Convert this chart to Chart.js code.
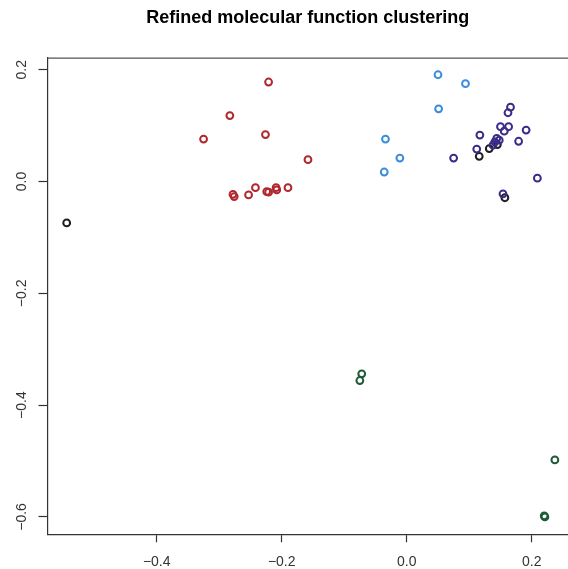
<!DOCTYPE html>
<html>
<head>
<meta charset="utf-8">
<script src="https://cdn.jsdelivr.net/npm/chart.js@4/dist/chart.umd.min.js"></script>
<style>
html,body{margin:0;padding:0;background:#fff;}
#wrap{width:568px;height:569px;position:relative;}
</style>
</head>
<body>
<div id="wrap"><canvas id="c"></canvas></div>
<script>
const titleText = "Refined molecular function clustering";
const xTicks = [-0.4, -0.2, 0.0, 0.2];
const yTicks = [-0.6, -0.4, -0.2, 0.0, 0.2];

const redX = [-0.221, -0.283, -0.325, -0.226, -0.158, -0.278, -0.276, -0.253, -0.242, -0.224, -0.221, -0.209, -0.208, -0.190];
const redY = [0.178, 0.118, 0.076, 0.084, 0.039, -0.023, -0.027, -0.024, -0.011, -0.018, -0.019, -0.011, -0.015, -0.011];

const blueX = [0.050, 0.094, 0.051, -0.034, -0.011, -0.036];
const blueY = [0.191, 0.175, 0.130, 0.076, 0.042, 0.017];

const purpleX = [0.166, 0.162, 0.150, 0.163, 0.156, 0.191, 0.117, 0.179, 0.144, 0.148, 0.141, 0.138, 0.112, 0.075, 0.209, 0.154];
const purpleY = [0.133, 0.123, 0.098, 0.098, 0.090, 0.092, 0.083, 0.072, 0.077, 0.074, 0.071, 0.065, 0.058, 0.042, 0.006, -0.022];

const blackX = [-0.544, 0.132, 0.116, 0.157, 0.145];
const blackY = [-0.074, 0.059, 0.045, -0.029, 0.066];

const greenX = [-0.072, -0.075, 0.237, 0.220, 0.221];
const greenY = [-0.344, -0.356, -0.498, -0.598, -0.600];

const xMin = -0.5747, xMax = 0.258;
const yMin = -0.6311, yMax = 0.2215;

function pts(xs, ys){ return xs.map((x,i)=>({x:x, y:ys[i]})); }
function fmt(v){ const r = Math.round(v*10)/10; return (r<0?'\u2212':'') + Math.abs(r).toFixed(1); }

function ds(label, xs, ys, color){
  return {label, data: pts(xs, ys), borderColor: color, backgroundColor: 'rgba(0,0,0,0)',
          pointRadius: 3.4, pointBorderWidth: 2, pointHoverRadius: 3.4, showLine: false};
}

const frame = {
  id: 'frame',
  afterDraw(chart){
    const {ctx, chartArea:a} = chart;
    ctx.save();
    ctx.strokeStyle = '#555';
    ctx.lineWidth = 1.2;
    ctx.beginPath();
    ctx.moveTo(a.left, a.top + 0.5);
    ctx.lineTo(chart.width, a.top + 0.5);
    ctx.stroke();
    ctx.restore();
  }
};

new Chart(document.getElementById('c'), {
  type: 'scatter',
  data: { datasets: [
    ds('red', redX, redY, '#b0282e'),
    ds('blue', blueX, blueY, '#3a8cdc'),
    ds('purple', purpleX, purpleY, '#3b2c8a'),
    ds('black', blackX, blackY, '#1e1e1e'),
    ds('green', greenX, greenY, '#1d5a36')
  ]},
  options: {
    responsive: true, maintainAspectRatio: false, animation: false,
    layout: { autoPadding: false, padding: { left: 0, right: 0, top: 0, bottom: 0 } },
    plugins: {
      legend: { display: false },
      tooltip: { enabled: false },
      title: { display: true, text: titleText, fullSize: false, color: '#000',
               font: { family: 'Liberation Sans', size: 18, weight: 'bold' },
               padding: { top: 7, bottom: 29.1 } }
    },
    scales: {
      x: {
        type: 'linear', min: xMin, max: xMax,
        afterBuildTicks: s => { s.ticks = xTicks.map(v => ({value: v})); },
        afterFit: s => { s.height = 34.7; s.paddingLeft = 0; s.paddingRight = 0; },
        grid: { drawOnChartArea: false, drawTicks: true, tickLength: 8, tickColor: '#333', tickWidth: 1.2 },
        border: { display: true, color: '#333', width: 1.2 },
        ticks: { color: '#333', padding: 11, maxRotation: 0, autoSkip: false,
                 font: { family: 'Liberation Sans', size: 14 }, callback: v => fmt(v) }
      },
      y: {
        type: 'linear', min: yMin, max: yMax,
        afterBuildTicks: s => { s.ticks = yTicks.map(v => ({value: v})); },
        afterFit: s => { s.width = 47.5; s.paddingTop = 0; s.paddingBottom = 0; },
        grid: { drawOnChartArea: false, drawTicks: true, tickLength: 9, tickColor: '#333', tickWidth: 1.2 },
        border: { display: true, color: '#333', width: 1.2 },
        ticks: { color: '#333', padding: 3, minRotation: 90, maxRotation: 90, crossAlign: 'center', autoSkip: false,
                 font: { family: 'Liberation Sans', size: 14 }, callback: v => fmt(v) }
      }
    }
  },
  plugins: [frame]
});
</script>
</body>
</html>
